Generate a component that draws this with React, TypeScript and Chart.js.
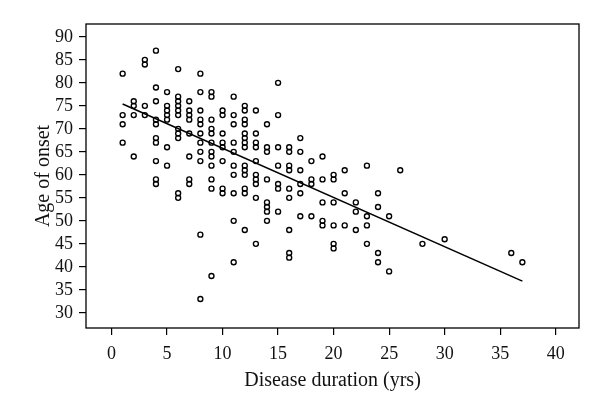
import React, { useEffect, useRef } from "react";
import { Chart, registerables } from "chart.js";

Chart.register(...registerables);

// Disease duration (years) of each patient
const durationYears = [
  1, 1, 1, 1,
  2, 2, 2, 2,
  3, 3, 3, 3,
  4, 4, 4, 4, 4, 4, 4, 4, 4, 4,
  5, 5, 5, 5, 5, 5, 5,
  6, 6, 6, 6, 6, 6, 6, 6, 6, 6, 6,
  7, 7, 7, 7, 7, 7, 7, 7,
  8, 8, 8, 8, 8, 8, 8, 8, 8, 8, 8,
  9, 9, 9, 9, 9, 9, 9, 9, 9, 9, 9, 9,
  10, 10, 10, 10, 10, 10, 10, 10,
  11, 11, 11, 11, 11, 11, 11, 11, 11, 11,
  12, 12, 12, 12, 12, 12, 12, 12, 12, 12, 12, 12, 12, 12,
  13, 13, 13, 13, 13, 13, 13, 13, 13, 13,
  14, 14, 14, 14, 14, 14, 14, 14,
  15, 15, 15, 15, 15, 15, 15,
  16, 16, 16, 16, 16, 16, 16, 16, 16,
  17, 17, 17, 17, 17, 17,
  18, 18, 18, 18,
  19, 19, 19, 19, 19,
  20, 20, 20, 20, 20, 20,
  21, 21, 21,
  22, 22, 22,
  23, 23, 23, 23,
  24, 24, 24, 24,
  25, 25,
  26,
  28,
  30,
  36,
  37,
];

// Age of onset of each patient (same order)
const onsetAges = [
  82, 73, 71, 67,
  76, 75, 73, 64,
  85, 84, 75, 73,
  87, 79, 76, 72, 71, 68, 67, 63, 59, 58,
  78, 75, 74, 73, 72, 66, 62,
  83, 77, 76, 75, 74, 73, 70, 69, 68, 56, 55,
  76, 74, 73, 72, 69, 64, 59, 58,
  82, 78, 74, 72, 71, 69, 67, 65, 63, 47, 33,
  78, 77, 72, 70, 69, 67, 65, 64, 62, 59, 57, 38,
  74, 73, 69, 67, 66, 63, 57, 56,
  77, 73, 71, 67, 65, 62, 60, 56, 50, 41,
  75, 74, 72, 71, 69, 68, 67, 66, 62, 61, 60, 57, 56, 48,
  74, 69, 67, 66, 63, 60, 59, 58, 55, 45,
  71, 66, 65, 59, 54, 53, 52, 50,
  80, 73, 66, 62, 58, 57, 52,
  66, 65, 62, 61, 57, 55, 48, 43, 42,
  68, 65, 61, 58, 56, 51,
  63, 59, 58, 51,
  64, 59, 54, 50, 49,
  60, 59, 54, 49, 45, 44,
  61, 56, 49,
  54, 52, 48,
  62, 51, 49, 45,
  56, 53, 43, 41,
  51, 39,
  61,
  45,
  46,
  43,
  41,
];

// Fitted regression line end points
const fitLineX = [1, 37];
const fitLineY = [75.4, 36.9];

const xTickValues = [0, 5, 10, 15, 20, 25, 30, 35, 40];
const yTickValues = [30, 35, 40, 45, 50, 55, 60, 65, 70, 75, 80, 85, 90];

const xTitle = "Disease duration (yrs)";
const yTitle = "Age of onset";

const FONT = "'Liberation Serif', 'Times New Roman', serif";

const boxPlugin = {
  id: "plotBox",
  afterDraw(chart: any) {
    const { ctx, chartArea: a } = chart;
    ctx.save();
    ctx.strokeStyle = "#000";
    ctx.lineWidth = 1.3;
    ctx.strokeRect(a.left, a.top, a.right - a.left, a.bottom - a.top);
    ctx.restore();
  },
};

export default function App() {
  const canvasRef = useRef<HTMLCanvasElement | null>(null);

  useEffect(() => {
    document.body.style.margin = "0";
    const canvas = canvasRef.current;
    if (!canvas) return;

    const points = durationYears.map((d, i) => ({ x: d, y: onsetAges[i] }));
    const line = fitLineX.map((x, i) => ({ x, y: fitLineY[i] }));

    const chart = new Chart(canvas, {
      type: "scatter",
      data: {
        datasets: [
          {
            data: points,
            pointStyle: "circle",
            pointRadius: 2.5,
            pointHoverRadius: 2.5,
            pointBorderWidth: 1.35,
            borderColor: "#000",
            backgroundColor: "rgba(0,0,0,0)",
            showLine: false,
          } as any,
          {
            data: line,
            showLine: true,
            borderColor: "#000",
            borderWidth: 1.5,
            pointRadius: 0,
            backgroundColor: "#000",
          } as any,
        ],
      },
      plugins: [boxPlugin],
      options: {
        animation: false,
        responsive: false,
        events: [],
        layout: { padding: { top: 24, right: 21, left: 0, bottom: 0 } },
        plugins: {
          legend: { display: false },
          tooltip: { enabled: false },
        },
        scales: {
          x: {
            type: "linear",
            min: -2.3,
            max: 42.1,
            afterBuildTicks: (axis: any) => {
              axis.ticks = xTickValues.map((v) => ({ value: v }));
            },
            afterFit: (scale: any) => {
              scale.height = 86;
            },
            border: { display: false },
            grid: {
              display: true,
              drawOnChartArea: false,
              drawTicks: true,
              tickLength: 7,
              color: "#000",
              lineWidth: 1.2,
            },
            ticks: {
              color: "#111",
              font: { family: FONT, size: 18 },
              padding: 8,
              maxRotation: 0,
              autoSkip: false,
            },
            title: {
              display: true,
              text: xTitle,
              color: "#111",
              font: { family: FONT, size: 20 },
              padding: { top: 0, bottom: 21 },
            },
          },
          y: {
            type: "linear",
            min: 26.7,
            max: 92.8,
            afterBuildTicks: (axis: any) => {
              axis.ticks = yTickValues.map((v) => ({ value: v }));
            },
            afterFit: (scale: any) => {
              scale.width = 86;
            },
            border: { display: false },
            grid: {
              display: true,
              drawOnChartArea: false,
              drawTicks: true,
              tickLength: 7,
              color: "#000",
              lineWidth: 1.2,
            },
            ticks: {
              color: "#111",
              font: { family: FONT, size: 18 },
              padding: 6,
              autoSkip: false,
            },
            title: {
              display: true,
              text: yTitle,
              color: "#111",
              font: { family: FONT, size: 20 },
              padding: { top: 32, bottom: 0 },
            },
          },
        },
      },
    });

    return () => {
      chart.destroy();
    };
  }, []);

  return (
    <div style={{ position: "fixed", left: 0, top: 0, width: 600, height: 414, background: "#fff" }}>
      <canvas ref={canvasRef} width={600} height={414} style={{ display: "block", width: 600, height: 414 }} />
    </div>
  );
}
